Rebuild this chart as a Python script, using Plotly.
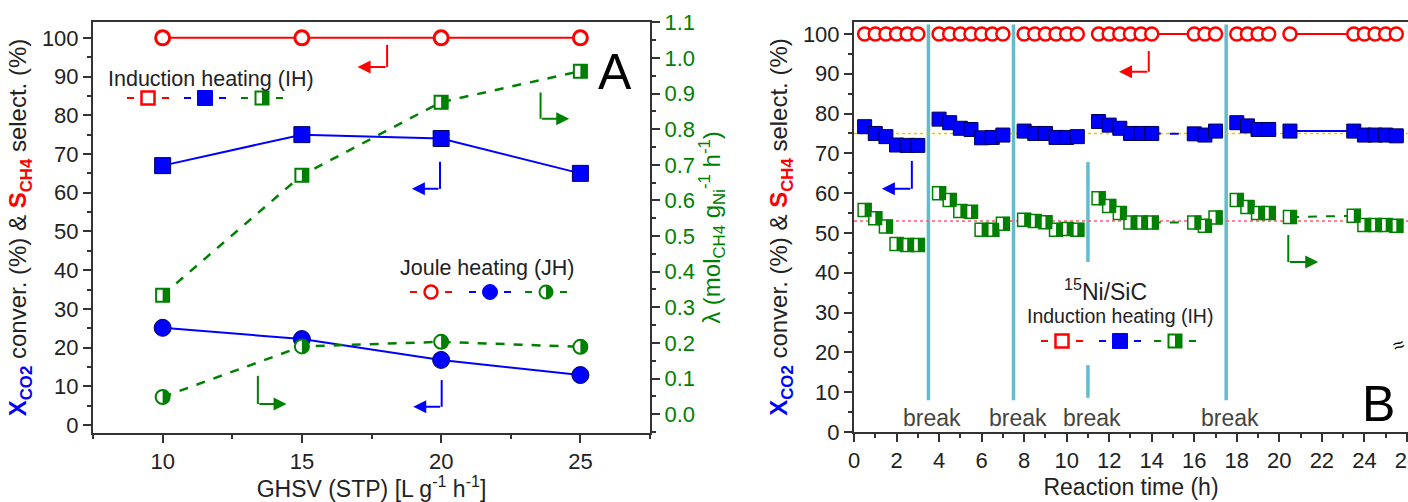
import plotly.graph_objects as go

W, H = 1408, 502
FONT = "Liberation Sans, Arial, sans-serif"
RED, BLUE, GREEN = "#ff0000", "#0000ff", "#008000"
DARK = "#222222"
CYAN = "#62bccb"

# ---------------- Panel A data ----------------
ghsv = [10, 15, 20, 25]
s_ch4_A = [100, 100, 100, 100]
x_co2_IH = [67, 75, 74, 65]
lam_IH = [0.334, 0.671, 0.876, 0.963]
x_co2_JH = [25.1, 22.2, 16.8, 12.9]
lam_JH = [0.048, 0.190, 0.203, 0.189]

# ---------------- Panel B data ----------------
t_B = [0.5, 1.0, 1.5, 2.0, 2.5, 3.0,
       4.0, 4.5, 5.0, 5.5, 6.0, 6.5, 7.0,
       8.0, 8.5, 9.0, 9.5, 10.0, 10.5,
       11.5, 12.0, 12.5, 13.0, 13.5, 14.0,
       16.0, 16.5, 17.0,
       18.0, 18.5, 19.0, 19.5,
       20.5,
       23.5, 24.0, 24.5, 25.0, 25.5]
s_ch4_B = [100, 100, 100, 100, 100, 100,
           100, 100, 100, 100, 100, 100, 100,
           100, 100, 100, 100, 100, 100,
           100, 100, 100, 100, 100, 100,
           100, 100, 100,
           100, 100, 100, 100,
           100,
           100, 100, 100, 100, 100]
x_co2_B = [76.7, 75.0, 74.2, 72.1, 72.0, 72.0,
           78.6, 77.7, 76.3, 76.0, 73.9, 74.0, 74.6,
           75.6, 75.0, 75.0, 74.0, 74.0, 74.2,
           78.0, 77.1, 76.3, 75.0, 75.0, 75.0,
           74.9, 74.6, 75.6,
           77.7, 76.9, 76.0, 76.0,
           75.6,
           75.6, 74.6, 74.6, 74.6, 74.4]
lam_B = [55.8, 53.7, 51.6, 47.2, 47.0, 47.0,
         60.0, 58.3, 55.5, 55.3, 50.8, 50.8, 52.3,
         53.3, 53.0, 52.7, 50.8, 51.0, 50.8,
         58.7, 56.8, 55.0, 52.6, 52.6, 52.6,
         52.6, 51.8, 53.9,
         58.3, 56.5, 55.0, 55.0,
         54.0,
         54.3, 52.0, 52.0, 52.0, 51.8]
bridges = [(14.0, 16.0), (20.5, 23.5)]
bridge_dash_red = ["solid", "solid"]
bridge_dash_blue = ["dash", "solid"]
bridge_dash_green = ["dash", "dash"]
break_times = [3.5, 7.5, 11.0, 17.5]
break_labels = ["break", "break", "break", "break"]
ref_lines = [75, 53]
ref_colors = ["#f2c200", "#ff5a7a"]

fig = go.Figure()

# ---------- Panel A traces ----------
fig.add_trace(go.Scatter(x=ghsv, y=s_ch4_A, mode="lines+markers", xaxis="x", yaxis="y",
                         line=dict(color=RED, width=2),
                         marker=dict(symbol="circle", size=14, color="white",
                                     line=dict(color=RED, width=3)), showlegend=False))
fig.add_trace(go.Scatter(x=ghsv, y=x_co2_IH, mode="lines+markers", xaxis="x", yaxis="y",
                         line=dict(color=BLUE, width=2),
                         marker=dict(symbol="square", size=16, color=BLUE,
                                     line=dict(color="#000066", width=1)), showlegend=False))
fig.add_trace(go.Scatter(x=ghsv, y=x_co2_JH, mode="lines+markers", xaxis="x", yaxis="y",
                         line=dict(color=BLUE, width=2),
                         marker=dict(symbol="circle", size=17, color=BLUE,
                                     line=dict(color="#000066", width=1)), showlegend=False))
fig.add_trace(go.Scatter(x=ghsv, y=lam_IH, mode="lines+markers", xaxis="x", yaxis="y2",
                         line=dict(color=GREEN, width=2.5, dash="dash"),
                         marker=dict(symbol="square", size=13, color="white",
                                     line=dict(color=GREEN, width=2)), showlegend=False))
fig.add_trace(go.Scatter(x=ghsv, y=lam_JH, mode="lines+markers", xaxis="x", yaxis="y2",
                         line=dict(color=GREEN, width=2.5, dash="dash"),
                         marker=dict(symbol="circle", size=14, color="white",
                                     line=dict(color=GREEN, width=2)), showlegend=False))

# ---------- Panel B traces ----------
def idx(t):
    return t_B.index(t)

for k, (a, b) in enumerate(bridges):
    fig.add_trace(go.Scatter(x=[a, b], y=[s_ch4_B[idx(a)], s_ch4_B[idx(b)]], mode="lines",
                             xaxis="x2", yaxis="y3", line=dict(color=RED, width=2, dash=bridge_dash_red[k]),
                             showlegend=False))
    fig.add_trace(go.Scatter(x=[a, b], y=[x_co2_B[idx(a)], x_co2_B[idx(b)]], mode="lines",
                             xaxis="x2", yaxis="y3", line=dict(color=BLUE, width=2, dash=bridge_dash_blue[k]),
                             showlegend=False))
    fig.add_trace(go.Scatter(x=[a, b], y=[lam_B[idx(a)], lam_B[idx(b)]], mode="lines",
                             xaxis="x2", yaxis="y3", line=dict(color=GREEN, width=2, dash=bridge_dash_green[k]),
                             showlegend=False))

fig.add_trace(go.Scatter(x=t_B, y=s_ch4_B, mode="markers", xaxis="x2", yaxis="y3",
                         marker=dict(symbol="circle", size=13, color="white",
                                     line=dict(color=RED, width=2.5)), showlegend=False))
fig.add_trace(go.Scatter(x=t_B, y=x_co2_B, mode="markers", xaxis="x2", yaxis="y3",
                         marker=dict(symbol="square", size=14, color=BLUE,
                                     line=dict(color="#000055", width=1)), showlegend=False))
fig.add_trace(go.Scatter(x=t_B, y=lam_B, mode="markers", xaxis="x2", yaxis="y3",
                         marker=dict(symbol="square", size=13, color="white",
                                     line=dict(color=GREEN, width=1.5)), showlegend=False))

shapes = []
annotations = []

def half_square(xref, yref, x, y, s, color=GREEN):
    return dict(type="rect", xref=xref, yref=yref, xsizemode="pixel", ysizemode="pixel",
                xanchor=x, yanchor=y, x0=0, x1=s / 2, y0=-s / 2, y1=s / 2,
                fillcolor=color, line=dict(width=0), layer="above")

def half_circle(xref, yref, x, y, r, color=GREEN):
    k = 0.5523 * r
    path = (f"M0,{-r} C{k},{-r} {r},{-k} {r},0 C{r},{k} {k},{r} 0,{r} Z")
    return dict(type="path", xref=xref, yref=yref, xsizemode="pixel", ysizemode="pixel",
                xanchor=x, yanchor=y, path=path, fillcolor=color, line=dict(width=0), layer="above")

for x, y in zip(ghsv, lam_IH):
    shapes.append(half_square("x", "y2", x, y, 14))
for x, y in zip(ghsv, lam_JH):
    shapes.append(half_circle("x", "y2", x, y, 7.5))
for x, y in zip(t_B, lam_B):
    shapes.append(half_square("x2", "y3", x, y, 14))

# break lines
for bt in break_times:
    if bt == 11.0:
        segs = [(42.7, 67.8), (8.6, 16.8)]
    else:
        segs = [(8.0, 102.4)]
    for y0, y1 in segs:
        shapes.append(dict(type="line", xref="x2", yref="y3", x0=bt, x1=bt, y0=y0, y1=y1,
                           line=dict(color=CYAN, width=3.5), layer="below"))
for bt, lab in zip(break_times, break_labels):
    annotations.append(dict(x=bt, y=3.6, xref="x2", yref="y3", text=lab, showarrow=False,
                            xanchor="center", yanchor="middle", xshift=4,
                            font=dict(family=FONT, size=23, color="#444444")))
# reference dotted lines
for yv, c in zip(ref_lines, ref_colors):
    shapes.append(dict(type="line", xref="x2", yref="y3", x0=0, x1=26.05, y0=yv, y1=yv,
                       line=dict(color=c, width=1.6, dash="dot"), layer="below"))

# ---------- L-shaped arrows ----------
def l_arrow(xref, yref, xc, ytop, ycorner, xtip, color):
    shapes.append(dict(type="line", xref=xref, yref=yref, x0=xc, x1=xc, y0=ytop, y1=ycorner,
                       line=dict(color=color, width=2)))
    annotations.append(dict(x=xtip, y=ycorner, ax=xc, ay=ycorner, xref=xref, yref=yref,
                            axref=xref, ayref=yref, text="", showarrow=True, arrowhead=2,
                            arrowsize=1.3, arrowwidth=2, arrowcolor=color))

l_arrow("x", "y", 18.06, 98.2, 92.5, 17.0, RED)
l_arrow("x", "y", 19.96, 68.0, 61.0, 18.95, BLUE)
l_arrow("x", "y", 23.57, 85.9, 79.1, 24.6, GREEN)
l_arrow("x", "y", 13.42, 12.7, 5.4, 14.45, GREEN)
l_arrow("x", "y", 20.02, 11.6, 4.7, 19.0, BLUE)
l_arrow("x2", "y3", 13.86, 95.7, 90.5, 12.46, RED)
l_arrow("x2", "y3", 2.72, 68.1, 61.1, 1.31, BLUE)
l_arrow("x2", "y3", 20.42, 49.5, 42.7, 21.83, GREEN)

# ---------- custom legends (paper coordinates, pixel sized keys) ----------
def px(xp):
    return xp / W

def py(yp):
    return 1 - yp / H

def key_dashes(cx, cy, color):
    for a, b in [(-21, -14), (14, 21)]:
        shapes.append(dict(type="line", xref="paper", yref="paper", xsizemode="pixel", ysizemode="pixel",
                           xanchor=px(cx), yanchor=py(cy), x0=a, x1=b, y0=0, y1=0,
                           line=dict(color=color, width=2)))

def key_marker(cx, cy, kind, color, fill, s=14, lw=2.5):
    shapes.append(dict(type="rect" if kind == "square" else "circle", xref="paper", yref="paper",
                       xsizemode="pixel", ysizemode="pixel", xanchor=px(cx), yanchor=py(cy),
                       x0=-s / 2, x1=s / 2, y0=-s / 2, y1=s / 2, fillcolor=fill,
                       line=dict(color=color, width=lw), layer="above"))

def legend_block(cy, xs, kind, s=14):
    key_dashes(xs[0], cy, RED)
    key_marker(xs[0], cy, kind, RED, "white", s - 1, 2.5)
    key_dashes(xs[1], cy, BLUE)
    key_marker(xs[1], cy, kind, BLUE, BLUE, s + 1, 1)
    key_dashes(xs[2], cy, GREEN)
    key_marker(xs[2], cy, kind, GREEN, "white", s - 1, 2)
    if kind == "square":
        shapes.append(half_square("paper", "paper", px(xs[2]), py(cy), s - 1))
    else:
        shapes.append(half_circle("paper", "paper", px(xs[2]), py(cy), (s - 1) / 2))

legend_block(98, [148, 205, 262], "square")
legend_block(292, [431, 490, 546], "circle")
legend_block(341, [1062, 1120, 1175], "square")

def label(xp, yp, text, size, color=DARK, angle=0):
    return dict(x=px(xp), y=py(yp), xref="paper", yref="paper", text=text, showarrow=False,
                xanchor="center", yanchor="middle", textangle=angle,
                font=dict(family=FONT, size=size, color=color))

annotations += [
    label(211, 79, "Induction heating (IH)", 21.5),
    label(487, 268, "Joule heating (JH)", 21.5),
    label(1105, 290, "<sup>15</sup>Ni/SiC", 23),
    label(1120, 316, "Induction heating (IH)", 19.5),
    label(615, 72, "A", 50, "black"),
    label(1378, 404, "B", 50, "black"),
    label(1398, 345, "≈", 20, "black", -20),
]

ytitle = ("<b><span style='color:#0000ff'>X<sub>CO2</sub></span></b> conver. (%) &amp; "
          "<b><span style='color:#ff0000'>S<sub>CH4</sub></span></b> select. (%)")
lamtitle = "λ (mol<sub>CH4</sub> g<sub>Ni</sub><sup>-1</sup> h<sup>-1</sup>)"

axis_common = dict(showline=True, linecolor="#333333", linewidth=2, ticks="outside", ticklen=8,
                   tickwidth=2, tickcolor="#333333", showgrid=False, zeroline=False, automargin=False,
                   tickfont=dict(family=FONT, size=22, color=DARK))
minor_common = dict(ticks="outside", ticklen=4, tickwidth=2, tickcolor="#333333", showgrid=False)

fig.update_layout(
    template="none",
    width=W, height=H, autosize=False, margin=dict(l=0, r=0, t=0, b=0, pad=0, autoexpand=False),
    paper_bgcolor="white", plot_bgcolor="white", showlegend=False,
    font=dict(family=FONT, color=DARK),
    xaxis=dict(**axis_common, domain=[93 / W, 650 / W], range=[7.5, 27.5], dtick=5, tick0=0,
               mirror=True, anchor="y", minor=dict(dtick=2.5, **minor_common),
               title=dict(text="GHSV (STP) [L g<sup>-1</sup> h<sup>-1</sup>]", standoff=6,
                          font=dict(family=FONT, size=23, color=DARK))),
    yaxis=dict(**axis_common, domain=[1 - 433 / H, 1 - 22 / H], range=[-2.07, 104.1], dtick=10, tick0=0,
               anchor="x", minor=dict(dtick=5, **minor_common),
               title=dict(text=ytitle, standoff=8, font=dict(family=FONT, size=24, color=DARK))),
    yaxis2=dict(**{**axis_common, "tickfont": dict(family=FONT, size=22, color=GREEN)},
                overlaying="y", side="right", anchor="x", range=[-0.053, 1.101], dtick=0.1, tick0=0,
                tickformat=".1f", minor=dict(dtick=0.05, **minor_common),
                title=dict(text=lamtitle, standoff=8, font=dict(family=FONT, size=24, color=GREEN))),
    xaxis2=dict(**axis_common, domain=[854 / W, 1.0], range=[0, 26.05], dtick=2, tick0=0,
                mirror=True, anchor="y3", minor=dict(dtick=1, **minor_common),
                ticklabeloverflow="allow",
                title=dict(text="Reaction time (h)", standoff=6,
                           font=dict(family=FONT, size=23, color=DARK))),
    yaxis3=dict(**axis_common, domain=[1 - 432 / H, 1 - 22 / H], range=[0, 103], dtick=10, tick0=0,
                anchor="x2", minor=dict(dtick=5, **minor_common),
                title=dict(text=ytitle, standoff=8, font=dict(family=FONT, size=24, color=DARK))),
    shapes=shapes,
    annotations=annotations,
)

fig.write_html("out.html")
